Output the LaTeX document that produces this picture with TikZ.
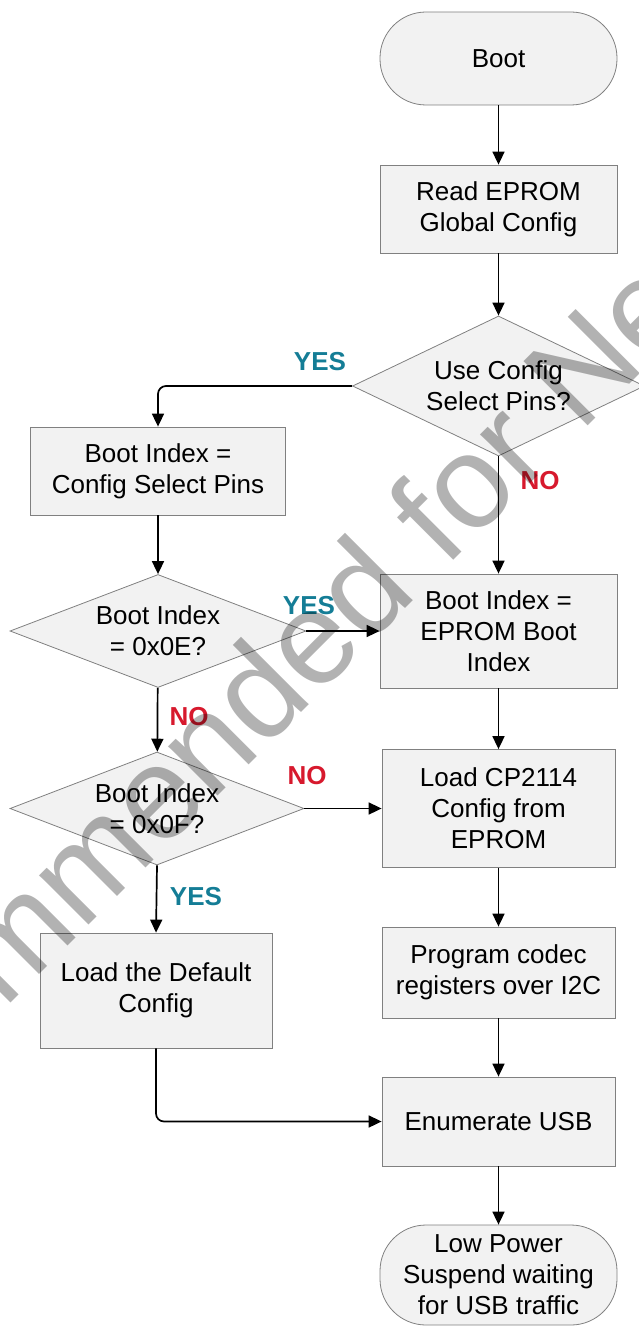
\documentclass[tikz,border=0pt]{standalone}
\usepackage{fontspec}
\setmainfont{Liberation Sans}
\usetikzlibrary{shapes.geometric,arrows.meta}
\definecolor{boxfill}{RGB}{242,242,242}
\definecolor{boxline}{RGB}{128,128,128}
\definecolor{yescol}{RGB}{20,125,150}
\definecolor{nocol}{RGB}{215,25,45}
\begin{document}
\begin{tikzpicture}[x=1pt,y=-1pt,
  shapebase/.style={draw=boxline, fill=boxfill, line width=0.8pt, inner sep=0pt,
    align=center, font=\fontsize{26}{31}\selectfont},
  procbox/.style={shapebase, rectangle},
  termbox/.style={shapebase, rectangle, rounded corners=46pt},
  decbox/.style={shapebase, diamond, aspect=2.5},
  flow/.style={line width=1.7pt, -{Triangle[length=13pt,width=12pt]}},
  yeslab/.style={text=yescol, inner sep=0pt, font=\fontsize{26}{31}\selectfont\bfseries},
  nolab/.style={text=nocol, inner sep=0pt, font=\fontsize{26}{31}\selectfont\bfseries}]
\useasboundingbox (0,0) rectangle (639,1327);
\clip (0,0) rectangle (639,1327);

% nodes
\node[termbox, minimum width=237pt, minimum height=93pt] (boot) at (498.5,58.5) {Boot};
\node[procbox, minimum width=237pt, minimum height=88pt] (read) at (498.5,209) {Read EPROM\\Global Config};
\node[decbox, minimum width=292pt, minimum height=140pt] (usecfg) at (498.5,386) {Use Config\\Select Pins?};
\node[procbox, minimum width=255pt, minimum height=88pt] (bicsp) at (158,471) {Boot Index =\\Config Select Pins};
\node[procbox, minimum width=237pt, minimum height=114pt] (biepb) at (498.5,631) {Boot Index =\\EPROM Boot\\Index};
\node[decbox, minimum width=296pt, minimum height=113pt] (dOE) at (158,631) {Boot Index\\= 0x0E?};
\node[decbox, minimum width=294pt, minimum height=113pt] (dOF) at (157,808.5) {Boot Index\\= 0x0F?};
\node[procbox, minimum width=233pt, minimum height=118pt] (loadcp) at (498.5,808.5) {Load CP2114\\Config from\\EPROM};
\node[procbox, minimum width=233pt, minimum height=91pt] (prog) at (498.5,972.5) {Program codec\\registers over I2C};
\node[procbox, minimum width=232pt, minimum height=115pt] (defcfg) at (156,990.5) {Load the Default\\Config};
\node[procbox, minimum width=233pt, minimum height=89pt] (enum) at (498.5,1121.5) {Enumerate USB};
\node[termbox, minimum width=237pt, minimum height=100pt] (lowpwr) at (498.5,1275) {Low Power\\Suspend waiting\\for USB traffic};

% connectors
\draw[flow] (boot) -- (read);
\draw[flow] (read) -- (usecfg);
\draw[flow, rounded corners=8pt] (usecfg.west) -| (bicsp.north);
\draw[flow] (usecfg) -- (biepb);
\draw[flow] (bicsp) -- (dOE);
\draw[flow] (dOE.east) -- (dOE.east -| biepb.west);
\draw[flow] (dOE) -- (dOF);
\draw[flow] (dOF.east) -- (dOF.east -| loadcp.west);
\draw[flow] (dOF.south) -- (defcfg.north);
\draw[flow] (biepb) -- (loadcp);
\draw[flow] (loadcp) -- (prog);
\draw[flow] (prog) -- (enum);
\draw[flow, rounded corners=8pt] (defcfg.south) |- (enum.west);
\draw[flow] (enum) -- (lowpwr);

% labels
\node[yeslab] (yes1) at (320,362) {YES};
\node[nolab] (no1) at (540,481) {NO};
\node[yeslab] (yes2) at (309,606) {YES};
\node[nolab] (no2) at (189,717) {NO};
\node[nolab] (no3) at (307,776) {NO};
\node[yeslab] (yes3) at (196,897) {YES};

% watermark
\node[rotate=45, anchor=base, inner sep=0pt, text=black, text opacity=0.3,
  font=\fontsize{132}{132}\selectfont] (wm) at (373,641) {Not Recommended for New Designs};
\end{tikzpicture}
\end{document}
